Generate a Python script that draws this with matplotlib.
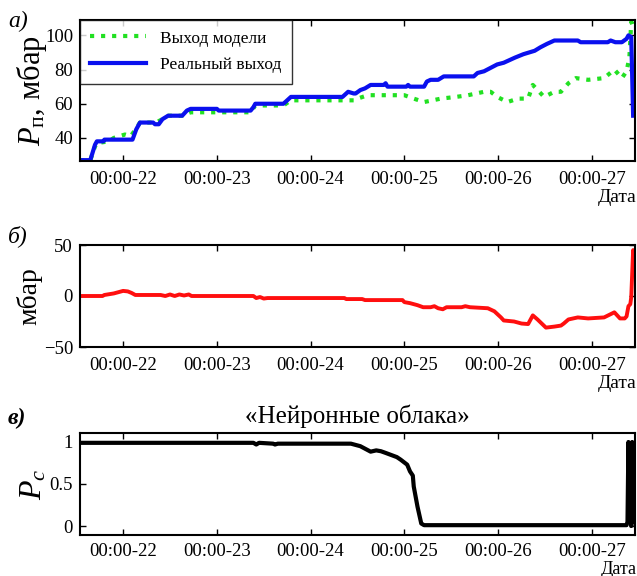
import numpy as np
import matplotlib
matplotlib.use('Agg')
import matplotlib.pyplot as plt

# --- data (days of month) ---
real_t = [21.54, 21.65, 21.70, 21.72, 21.79, 21.80, 22.10, 22.14, 22.18, 22.32,
          22.34, 22.38, 22.42, 22.48, 22.63, 22.68, 22.72, 23.00, 23.02, 23.36,
          23.39, 23.41, 23.71, 23.75, 23.79, 24.34, 24.38, 24.40, 24.46, 24.48,
          24.53, 24.58, 24.64, 24.78, 24.80, 24.82, 25.02, 25.04, 25.06, 25.21,
          25.24, 25.28, 25.36, 25.42, 25.74, 25.78, 25.85, 25.92, 25.99, 26.06,
          26.10, 26.18, 26.27, 26.33, 26.39, 26.45, 26.52, 26.60, 26.85, 26.88,
          27.17, 27.20, 27.25, 27.32, 27.37, 27.39, 27.42, 27.44]
real_v = [27, 27, 36, 38, 38, 39, 39, 45, 49, 49,
          48, 48, 51, 53, 53, 56, 57, 57, 56, 56,
          58, 60, 60, 62, 64, 64, 66, 67, 66, 66,
          68, 69, 71, 71, 72, 70, 70, 71, 70, 70,
          73, 74, 74, 76, 76, 78, 79, 81, 83, 84,
          85, 87, 89, 90, 91, 93, 95, 97, 97, 96,
          96, 97, 96, 96, 98, 100, 99, 53]

model_t = [21.54, 21.65, 21.70, 21.72, 21.85, 21.90, 22.02, 22.08, 22.12, 22.18,
           22.35, 22.42, 22.48, 22.63, 22.72, 23.36, 23.41, 23.71, 23.79, 24.46,
           24.50, 24.61, 25.00, 25.10, 25.21, 25.39, 25.55, 25.68, 25.85, 25.92,
           25.99, 26.10, 26.21, 26.32, 26.37, 26.49, 26.60, 26.67, 26.75, 26.83,
           26.96, 27.13, 27.24, 27.32, 27.37, 27.40, 27.42, 27.44]
model_v = [27, 27, 35, 37, 38, 40, 42, 41, 44, 49,
           49, 51, 53, 53, 55, 55, 59, 59, 62, 62,
           63, 65, 65, 63, 61, 63, 64, 65, 67, 67,
           64, 61, 63, 63, 71, 64, 67, 67, 72, 75,
           74, 75, 80, 75, 79, 87, 108, 105]

err_t = [21.54, 21.78, 21.80, 21.90, 21.96, 22.00, 22.05, 22.09, 22.13, 22.40,
         22.45, 22.50, 22.55, 22.60, 22.65, 22.70, 22.73, 23.39, 23.42, 23.46,
         23.50, 23.54, 24.36, 24.38, 24.55, 24.58, 24.98, 25.00, 25.06, 25.14,
         25.20, 25.28, 25.32, 25.36, 25.41, 25.45, 25.61, 25.65, 25.70, 25.89,
         25.96, 26.03, 26.06, 26.17, 26.25, 26.32, 26.37, 26.42, 26.51, 26.60,
         26.67, 26.70, 26.75, 26.85, 26.96, 27.13, 27.24, 27.30, 27.35, 27.37,
         27.39, 27.41, 27.42, 27.44, 27.45]
err_v = [0, 0, 1, 2.5, 4, 5, 4.5, 3, 1, 1,
         0, 1.5, 0, 1.5, 0.5, 1.5, 0, 0, -2, -1,
         -2.5, -2, -2, -3, -3, -4, -4, -6, -7, -9,
         -11, -11, -10, -12, -13, -11, -11, -10, -11, -12,
         -15, -21, -24, -25, -27, -27.5, -19, -23, -31, -30,
         -29, -27, -23, -21, -22, -21, -16, -22, -22, -20,
         -10, -8, -1, 45, 40]

pc_t = [21.54, 23.39, 23.42, 23.45, 23.60, 23.62, 23.65, 24.43, 24.53, 24.64,
        24.70, 24.75, 24.80, 24.86, 24.92, 24.96, 25.03, 25.06, 25.09, 25.10,
        25.14, 25.18, 25.21, 27.37, 27.38, 27.39, 27.395, 27.40, 27.405, 27.41,
        27.42, 27.43, 27.44, 27.45]
pc_v = [0.99, 0.99, 0.97, 0.99, 0.98, 0.97, 0.98, 0.98, 0.95, 0.885,
        0.90, 0.89, 0.87, 0.845, 0.82, 0.79, 0.73, 0.65, 0.60, 0.47,
        0.23, 0.03, 0.01, 0.01, 0.05, 1.0, 0.1, 0.98, 0.2, 0.97,
        0.0, 1.0, 0.05, 0.9]

day_ticks = [22, 23, 24, 25, 26, 27]
day_labels = ['00:00-22', '00:00-23', '00:00-24', '00:00-25', '00:00-26', '00:00-27']

plt.rcParams['font.family'] = ['Liberation Serif', 'DejaVu Serif']
plt.rcParams['mathtext.fontset'] = 'custom'
plt.rcParams['mathtext.rm'] = 'Liberation Serif'
plt.rcParams['mathtext.it'] = 'Liberation Serif:italic'

fig = plt.figure(figsize=(6.37, 5.76), dpi=100)
W, H = 637.0, 576.0


def make_ax(top, bottom, left=80, right=635):
    return fig.add_axes([left / W, 1 - bottom / H, (right - left) / W, (bottom - top) / H])


def style(ax, date_off=-26, xpad=7.5, date_size=14):
    ax.set_xlim(21.54, 27.46)
    ax.set_xticks(day_ticks)
    ax.set_xticklabels(day_labels)
    ax.tick_params(direction='in', top=True, right=True, length=4, width=1,
                   labelsize=13.5)
    ax.tick_params(axis='x', pad=xpad)
    ax.tick_params(axis='y', pad=5)
    for s in ax.spines.values():
        s.set_linewidth(1.5)
    # "Дата" under the right end of the tick labels
    ax.annotate('Дата', xy=(1.0, 0.0), xycoords='axes fraction',
                xytext=(1, date_off), textcoords='offset points',
                ha='right', va='center', fontsize=date_size)


ax1 = make_ax(20, 161)
ax1.plot(model_t, model_v, ':', color='#22e022', lw=3.0, label='Выход модели')
ax1.plot(real_t, real_v, '-', color='#0a10ee', lw=3.0, label='Реальный выход')
ax1.set_ylim(26.5, 109)
ax1.set_yticks([40, 60, 80, 100])
style(ax1)
ax1.set_ylabel(r'$P_{\mathrm{п}}$, мбар', fontsize=22, labelpad=-3)
leg = ax1.legend(loc='upper left', fontsize=12.5, frameon=True, fancybox=False,
                 borderaxespad=0, handlelength=3.2, borderpad=0.6, labelspacing=0.6)
leg.get_frame().set_edgecolor('black')
leg.get_frame().set_linewidth(1.0)

ax2 = make_ax(245, 347)
ax2.plot(err_t, err_v, '-', color='#ff0f0f', lw=2.8)
ax2.set_ylim(-50, 50)
ax2.set_yticks([-50, 0, 50])
style(ax2)
ax2.set_ylabel('мбар', fontsize=20, labelpad=1)

ax3 = make_ax(433, 535)
ax3.plot(pc_t, pc_v, '-', color='black', lw=3.0)
ax3.set_ylim(-0.107, 1.107)
ax3.set_yticks([0, 0.5, 1])
ax3.set_yticklabels(['0', '0.5', '1'])
style(ax3, date_off=-25, xpad=6, date_size=13)
ax3.set_ylabel(r'$P_{c}$', fontsize=23, labelpad=1)
ax3.set_title('«Нейронные облака»', fontsize=18, pad=7)

fig.text(8 / W, 1 - 21 / H, 'а)', fontsize=17, style='italic', va='center')
fig.text(8 / W, 1 - 236 / H, 'б)', fontsize=17, style='italic', va='center')
fig.text(8 / W, 1 - 418 / H, 'в)', fontsize=17, style='italic', weight='bold', va='center')

fig.savefig('out.png', dpi=100)
